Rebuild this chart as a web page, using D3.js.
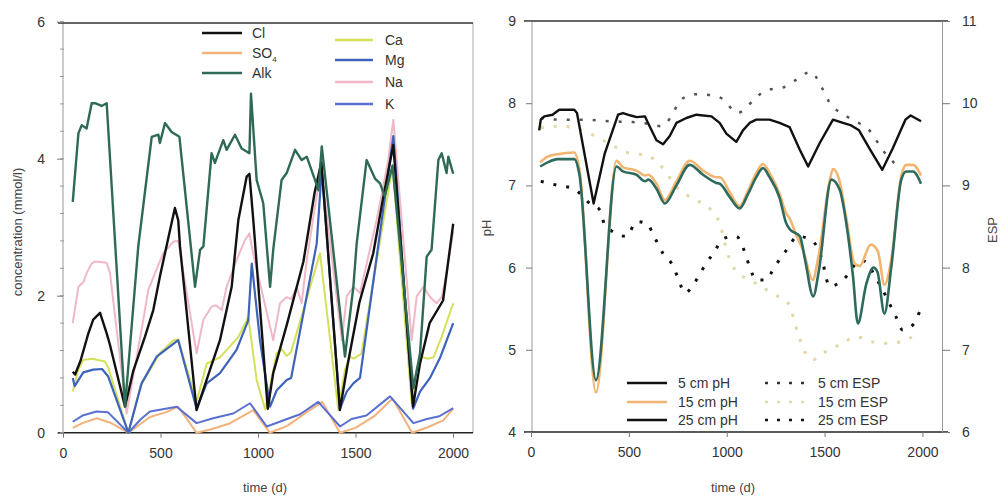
<!DOCTYPE html>
<html><head><meta charset="utf-8">
<script src="https://cdn.jsdelivr.net/npm/d3@7"></script>
<style>
body{margin:0;background:#fff;}
svg{display:block;font-family:"Liberation Sans",Arial,sans-serif;}
.tick text{font-size:14px;fill:#333;}
</style></head><body>
<svg id="c" width="1006" height="499"></svg>
<script>
// ---- Left panel data: [time (d), concentration (mmol/l)]
const cl = [[50,0.89],[62,0.85],[90,1.05],[130,1.45],[155,1.65],[190,1.75],[224,1.45],[241,1.28],[318,0.38],[360,0.9],[420,1.4],[463,1.79],[497,2.28],[549,2.96],[574,3.28],[591,3.1],[600,2.72],[685,0.33],[754,0.92],[805,1.35],[865,2.13],[899,3.1],[942,3.74],[956,3.78],[976,3.1],[1050,0.35],[1078,0.87],[1150,1.6],[1233,2.5],[1290,3.5],[1325,3.95],[1420,0.33],[1460,1.0],[1520,1.9],[1591,2.62],[1643,3.45],[1694,4.2],[1795,0.38],[1830,1.0],[1880,1.6],[1949,1.93],[2001,3.05]];
const so4 = [[50,0.07],[100,0.14],[172,0.21],[240,0.15],[335,0.0],[446,0.23],[530,0.3],[590,0.38],[685,0.0],[760,0.05],[850,0.13],[976,0.33],[1060,0.0],[1150,0.1],[1250,0.3],[1330,0.45],[1420,0.0],[1500,0.07],[1600,0.25],[1690,0.5],[1790,0.0],[1870,0.08],[1950,0.18],[2001,0.35]];
const alk = [[50,3.37],[79,4.37],[96,4.49],[121,4.44],[147,4.81],[164,4.81],[198,4.77],[224,4.81],[318,0.38],[386,2.72],[455,4.32],[489,4.35],[497,4.23],[523,4.52],[557,4.39],[597,4.32],[677,2.13],[703,2.67],[720,2.72],[762,4.08],[779,3.94],[822,4.27],[839,4.13],[882,4.35],[916,4.15],[956,4.08],[964,4.95],[993,3.69],[1027,3.35],[1062,2.13],[1078,2.67],[1121,3.69],[1147,3.79],[1190,4.13],[1224,3.98],[1250,4.03],[1292,3.69],[1310,3.54],[1327,4.18],[1369,3.1],[1446,1.11],[1489,2.13],[1506,2.76],[1557,3.98],[1600,3.71],[1626,3.64],[1650,3.45],[1690,3.9],[1797,0.65],[1831,1.16],[1865,2.57],[1890,2.67],[1925,3.98],[1942,4.08],[1967,3.79],[1976,4.03],[2001,3.78]];
const ca = [[50,0.6],[79,0.93],[104,1.06],[150,1.08],[215,1.04],[232,0.95],[335,0.0],[400,0.7],[497,1.16],[566,1.35],[591,1.36],[685,0.45],[737,1.01],[805,1.1],[900,1.4],[950,1.69],[993,0.77],[1037,0.34],[1096,1.16],[1121,1.22],[1147,1.12],[1170,1.18],[1318,2.62],[1412,0.33],[1446,0.92],[1472,1.11],[1490,1.08],[1530,1.15],[1690,3.9],[1788,0.43],[1814,0.95],[1839,1.11],[1870,1.08],[1900,1.1],[1942,1.4],[2001,1.89]];
const mg = [[50,0.8],[60,0.68],[104,0.88],[155,0.92],[200,0.93],[232,0.82],[335,0.0],[403,0.72],[480,1.11],[591,1.35],[685,0.35],[737,0.72],[805,0.87],[890,1.21],[950,1.64],[968,2.47],[1010,1.35],[1062,0.38],[1096,0.62],[1147,0.77],[1170,0.8],[1301,2.76],[1327,3.84],[1420,0.35],[1455,0.6],[1489,0.72],[1523,0.8],[1694,4.33],[1795,0.35],[1831,0.6],[1882,0.8],[1933,1.09],[2001,1.6]];
const na = [[50,1.6],[79,2.13],[105,2.2],[121,2.33],[147,2.47],[164,2.5],[224,2.48],[241,2.33],[326,0.28],[412,1.65],[437,2.08],[472,2.33],[514,2.62],[566,2.79],[591,2.8],[685,1.16],[720,1.65],[762,1.84],[785,1.86],[814,1.79],[839,2.13],[890,2.52],[933,2.81],[956,2.91],[976,2.6],[1078,1.35],[1113,1.89],[1147,1.98],[1170,1.95],[1198,2.13],[1224,1.89],[1250,2.52],[1292,3.3],[1318,3.74],[1327,3.78],[1430,1.35],[1455,1.99],[1489,2.13],[1523,2.04],[1608,3.1],[1668,3.98],[1694,4.57],[1788,1.35],[1814,1.99],[1848,2.13],[1882,1.98],[1916,1.89],[1942,1.98],[1967,2.33],[2001,2.94]];
const k = [[50,0.16],[100,0.25],[172,0.31],[230,0.3],[335,0.0],[400,0.2],[446,0.31],[583,0.38],[685,0.14],[770,0.21],[873,0.28],[959,0.43],[1045,0.09],[1149,0.2],[1216,0.27],[1309,0.45],[1421,0.09],[1480,0.2],[1556,0.25],[1677,0.53],[1797,0.14],[1866,0.2],[1930,0.24],[2001,0.36]];

// ---- Right panel data: [time (d), pH] and [time (d), ESP]
const ph5 = [[42,7.67],[50,7.8],[68,7.84],[110,7.86],[144,7.92],[221,7.92],[235,7.88],[320,6.78],[377,7.39],[445,7.86],[470,7.88],[510,7.85],[540,7.83],[582,7.84],[598,7.76],[641,7.55],[675,7.5],[709,7.6],[743,7.76],[794,7.82],[845,7.86],[922,7.84],[964,7.76],[998,7.63],[1049,7.53],[1083,7.67],[1117,7.76],[1151,7.8],[1219,7.8],[1270,7.76],[1321,7.71],[1374,7.43],[1416,7.23],[1474,7.51],[1543,7.8],[1594,7.76],[1636,7.73],[1676,7.67],[1729,7.45],[1795,7.19],[1848,7.45],[1913,7.8],[1940,7.85],[1993,7.78]];
const ph15 = [[47,7.28],[85,7.35],[136,7.38],[221,7.4],[247,7.2],[332,4.48],[437,7.3],[470,7.22],[539,7.18],[582,7.12],[600,7.13],[641,7.02],[684,6.82],[743,7.05],[811,7.3],[879,7.18],[947,7.1],[965,7.1],[1015,6.92],[1066,6.75],[1108,6.93],[1151,7.15],[1185,7.26],[1219,7.15],[1270,6.9],[1304,6.66],[1321,6.6],[1355,6.4],[1389,6.22],[1440,5.85],[1466,6.1],[1526,7.05],[1543,7.2],[1577,7.05],[1611,6.6],[1653,6.05],[1679,6.02],[1736,6.28],[1772,6.2],[1806,5.79],[1841,6.1],[1892,7.12],[1918,7.25],[1952,7.25],[1993,7.12]];
const ph25 = [[47,7.23],[85,7.28],[136,7.32],[221,7.32],[247,7.14],[332,4.63],[437,7.23],[470,7.17],[539,7.13],[582,7.05],[600,7.07],[641,6.96],[684,6.78],[743,7.0],[811,7.25],[879,7.13],[947,7.03],[965,7.02],[1015,6.86],[1066,6.72],[1108,6.89],[1151,7.1],[1185,7.21],[1219,7.1],[1270,6.85],[1304,6.54],[1321,6.47],[1374,6.38],[1400,6.1],[1442,5.65],[1470,5.95],[1535,7.07],[1577,6.95],[1611,6.54],[1645,5.9],[1670,5.32],[1713,5.8],[1750,6.0],[1770,5.95],[1806,5.44],[1841,6.01],[1892,7.07],[1917,7.17],[1952,7.17],[1993,7.02]];
const esp5 = [[50,9.82],[150,9.8],[272,9.8],[400,9.78],[520,9.77],[600,9.75],[667,9.72],[777,10.06],[838,10.11],[913,10.1],[981,10.05],[1055,9.88],[1131,10.02],[1201,10.16],[1286,10.19],[1352,10.28],[1429,10.38],[1488,10.18],[1522,10.02],[1599,9.86],[1658,9.78],[1729,9.67],[1797,9.43],[1865,9.25]];
const esp15 = [[50,9.7],[150,9.72],[283,9.65],[352,9.57],[428,9.47],[505,9.39],[590,9.37],[658,9.25],[760,8.94],[845,8.82],[921,8.7],[964,8.54],[1005,8.17],[1050,7.95],[1120,7.85],[1245,7.67],[1313,7.57],[1364,7.2],[1398,6.98],[1440,6.88],[1508,6.98],[1593,7.08],[1661,7.16],[1737,7.1],[1814,7.08],[1899,7.1],[1959,7.18]];
const esp25 = [[50,9.05],[137,9.0],[217,8.96],[301,8.78],[352,8.7],[377,8.52],[488,8.38],[539,8.56],[590,8.54],[633,8.36],[675,8.17],[718,8.05],[752,7.87],[786,7.69],[837,7.82],[879,7.99],[930,8.17],[990,8.36],[1049,8.38],[1092,8.19],[1117,8.01],[1151,7.85],[1199,7.85],[1245,8.01],[1304,8.21],[1364,8.38],[1440,8.32],[1483,8.13],[1526,7.77],[1585,7.83],[1690,8.09],[1780,7.8],[1865,7.4],[1899,7.24],[1950,7.3],[1985,7.46]];

const xTicks = [0,500,1000,1500,2000];
const concTicks = [0,2,4,6];
const phTicks = [4,5,6,7,8,9];
const espTicks = [6,7,8,9,10,11];

const svg = d3.select("#c");

// ---------------- LEFT PANEL ----------------
const L = {l:63, r:473, t:23, b:433};
const xL = d3.scaleLinear().domain([0,2100]).range([63, 472.5]);
const yL = d3.scaleLinear().domain([0,6]).range([432.7, 21.7]);

svg.append("line").attr("x1",L.l).attr("x2",L.l).attr("y1",L.t).attr("y2",L.b).attr("stroke","#999").attr("stroke-width",1);
svg.append("line").attr("x1",L.r).attr("x2",L.r).attr("y1",L.t).attr("y2",L.b).attr("stroke","#aaa").attr("stroke-width",1);
svg.append("line").attr("x1",L.l-5).attr("x2",L.r).attr("y1",L.t).attr("y2",L.t).attr("stroke","#333").attr("stroke-width",1.6);

const gxL = svg.append("g").attr("transform",`translate(0,${yL(0)})`)
  .call(d3.axisBottom(xL).tickValues(xTicks).tickSize(5).tickPadding(10).tickFormat(d3.format("d")));
gxL.select(".domain").attr("d",`M${L.l-5},0H${L.r}`).attr("stroke","#222").attr("stroke-width",1.5);
gxL.selectAll(".tick line").attr("stroke","#777");

const gyL = svg.append("g").attr("transform",`translate(${L.l},0)`)
  .call(d3.axisLeft(yL).tickValues(concTicks).tickSize(6).tickPadding(12).tickFormat(d3.format("d")));
gyL.select(".domain").remove();
gyL.selectAll(".tick line").attr("stroke","#777");
svg.append("g").selectAll("line").data(d3.range(0,6.01,0.4)).join("line")
  .attr("x1",L.l-3).attr("x2",L.l+1).attr("y1",d=>yL(d)).attr("y2",d=>yL(d)).attr("stroke","#999");

const lineL = d3.line().x(d=>xL(d[0])).y(d=>yL(d[1]));
const leftSeries = [
  {name:"SO4", data:so4, color:"#f2b27c", w:2},
  {name:"K", data:k, color:"#5a6fd0", w:2},
  {name:"Na", data:na, color:"#f0b8c6", w:2},
  {name:"Ca", data:ca, color:"#d5e05a", w:2},
  {name:"Mg", data:mg, color:"#3d63bb", w:2.2},
  {name:"Cl", data:cl, color:"#111", w:2.4},
  {name:"Alk", data:alk, color:"#2f6a55", w:2.4},
];
leftSeries.forEach(s=>{
  svg.append("path").attr("d",lineL(s.data)).attr("fill","none")
    .attr("stroke",s.color).attr("stroke-width",s.w).attr("stroke-linejoin","round");
});

const legL1 = [{t:"Cl",c:"#111",y:33},{t:"SO",sub:"4",c:"#f2b27c",y:53},{t:"Alk",c:"#2f6a55",y:73}];
const legL2 = [{t:"Ca",c:"#d5e05a",y:40},{t:"Mg",c:"#3d63bb",y:60},{t:"Na",c:"#f0b8c6",y:82},{t:"K",c:"#5a6fd0",y:104}];
function legendRow(g, items, x1, x2, tx){
  items.forEach(it=>{
    g.append("line").attr("x1",x1).attr("x2",x2).attr("y1",it.y).attr("y2",it.y).attr("stroke",it.c).attr("stroke-width",2.6);
    const t = g.append("text").attr("x",tx).attr("y",it.y+5).attr("font-size",14).attr("fill","#333").text(it.t);
    if(it.sub) t.append("tspan").attr("font-size",8).attr("dy",4).text(it.sub);
  });
}
legendRow(svg.append("g"), legL1, 202, 242, 252);
legendRow(svg.append("g"), legL2, 335, 373, 385);

svg.append("text").attr("transform","translate(22,232) rotate(-90)").attr("text-anchor","middle")
  .attr("font-size",13).attr("fill","#444").text("concentration (mmol/l)");
svg.append("text").attr("x",265).attr("y",492).attr("text-anchor","middle")
  .attr("font-size",13).attr("fill","#444").text("time (d)");

// ---------------- RIGHT PANEL ----------------
const R = {l:532, r:942, t:21, b:432};
const xR = d3.scaleLinear().domain([0,2100]).range([531, 942]);
const yR = d3.scaleLinear().domain([4,9]).range([432, 21]);
const yE = d3.scaleLinear().domain([6,11]).range([432, 21]);

svg.append("line").attr("x1",R.l).attr("x2",R.l).attr("y1",R.t).attr("y2",R.b).attr("stroke","#999");
svg.append("line").attr("x1",R.l-8).attr("x2",R.r+6).attr("y1",R.t).attr("y2",R.t).attr("stroke","#333").attr("stroke-width",1.6);

const gxR = svg.append("g").attr("transform",`translate(0,${R.b})`)
  .call(d3.axisBottom(xR).tickValues(xTicks).tickSize(5).tickPadding(10).tickFormat(d3.format("d")));
gxR.select(".domain").attr("d",`M${R.l-8},0H${R.r+6}`).attr("stroke","#222").attr("stroke-width",1.5);
gxR.selectAll(".tick line").attr("stroke","#777");

const gyR = svg.append("g").attr("transform",`translate(${R.l},0)`)
  .call(d3.axisLeft(yR).tickValues(phTicks).tickSize(6).tickPadding(10).tickFormat(d3.format("d")));
gyR.select(".domain").remove();
gyR.selectAll(".tick line").attr("stroke","#777");

const gyE = svg.append("g").attr("transform",`translate(${R.r},0)`)
  .call(d3.axisRight(yE).tickValues(espTicks).tickSize(8).tickPadding(12).tickFormat(d3.format("d")));
gyE.select(".domain").attr("stroke","#999");
gyE.selectAll(".tick line").attr("stroke","#777");

const lineR = d3.line().x(d=>xR(d[0])).y(d=>yR(d[1]));
const lineRs = d3.line().curve(d3.curveMonotoneX).x(d=>xR(d[0])).y(d=>yR(d[1]));
const lineE = d3.line().curve(d3.curveMonotoneX).x(d=>xR(d[0])).y(d=>yE(d[1]));

svg.append("path").attr("d",lineE(esp15)).attr("fill","none").attr("stroke","#e2d7a6").attr("stroke-width",3).attr("stroke-dasharray","3,10");
svg.append("path").attr("d",lineE(esp5)).attr("fill","none").attr("stroke","#555").attr("stroke-width",2.5).attr("stroke-dasharray","3,10");
svg.append("path").attr("d",lineE(esp25)).attr("fill","none").attr("stroke","#111").attr("stroke-width",3).attr("stroke-dasharray","3,10");

svg.append("path").attr("d",lineRs(ph15)).attr("fill","none").attr("stroke","#f2b56f").attr("stroke-width",2.6);
svg.append("path").attr("d",lineRs(ph25)).attr("fill","none").attr("stroke","#2e6a5d").attr("stroke-width",2.6);
svg.append("path").attr("d",lineR(ph5)).attr("fill","none").attr("stroke","#111").attr("stroke-width",2.4).attr("stroke-linejoin","round");

const legR1 = [{t:"5 cm pH",c:"#111",y:383},{t:"15 cm pH",c:"#f2b56f",y:402},{t:"25 cm pH",c:"#111",y:420}];
const legR2 = [{t:"5 cm ESP",c:"#333",y:383},{t:"15 cm ESP",c:"#e2d7a6",y:402},{t:"25 cm ESP",c:"#111",y:420}];
legR1.forEach(it=>{
  svg.append("line").attr("x1",627).attr("x2",667).attr("y1",it.y).attr("y2",it.y).attr("stroke",it.c).attr("stroke-width",2.4);
  svg.append("text").attr("x",678).attr("y",it.y+5).attr("font-size",14).attr("fill","#333").text(it.t);
});
legR2.forEach(it=>{
  svg.append("line").attr("x1",765).attr("x2",808).attr("y1",it.y).attr("y2",it.y).attr("stroke",it.c).attr("stroke-width",2.6).attr("stroke-dasharray","3,9");
  svg.append("text").attr("x",818).attr("y",it.y+5).attr("font-size",14).attr("fill","#333").text(it.t);
});

svg.append("text").attr("transform","translate(491,228) rotate(-90)").attr("text-anchor","middle")
  .attr("font-size",13).attr("fill","#444").text("pH");
svg.append("text").attr("transform","translate(997,230) rotate(-90)").attr("text-anchor","middle")
  .attr("font-size",13).attr("fill","#444").text("ESP");
svg.append("text").attr("x",733).attr("y",492).attr("text-anchor","middle")
  .attr("font-size",13).attr("fill","#444").text("time (d)");
</script></body></html>
